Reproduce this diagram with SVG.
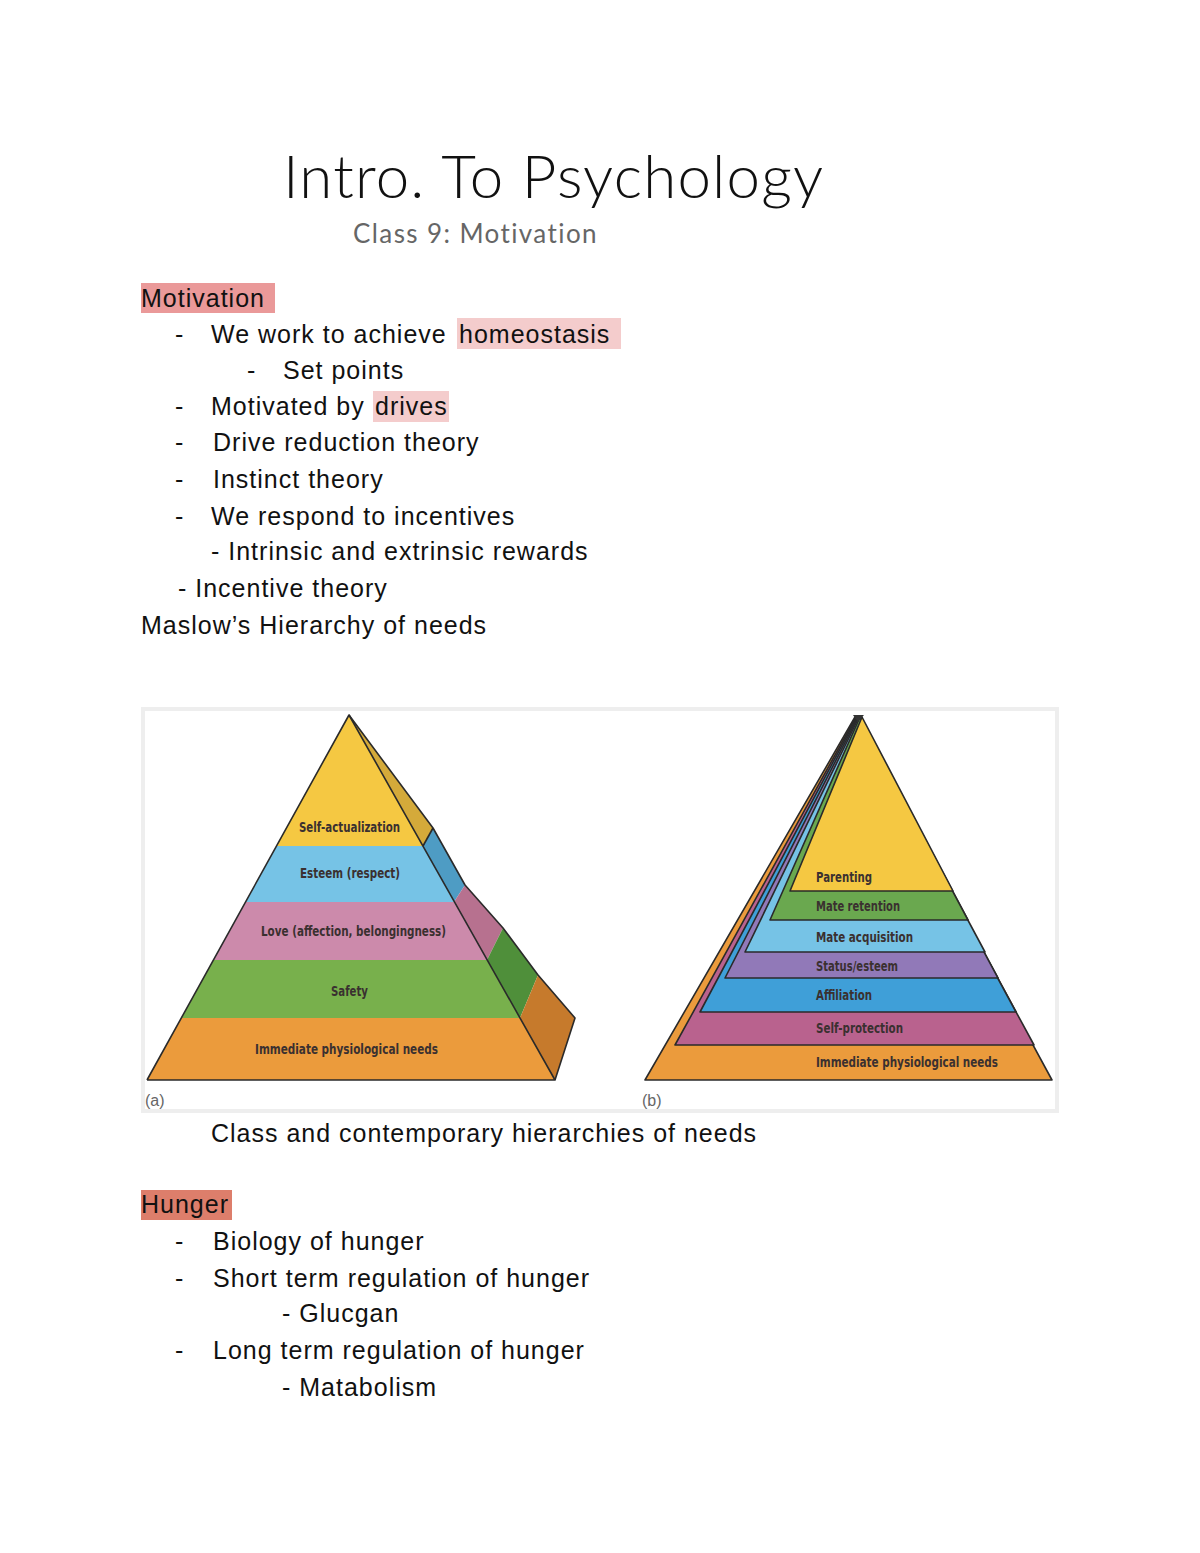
<svg xmlns="http://www.w3.org/2000/svg" width="1200" height="1553" viewBox="0 0 1200 1553">
<style>
.b{font-family:"Liberation Sans",Arial,sans-serif;font-size:25px;fill:#111;letter-spacing:1px}
.p{font-family:"DejaVu Sans Condensed",sans-serif;font-size:14px;font-weight:bold;fill:#3a3030}
.s{stroke:#2a2a2a;stroke-width:1.6;stroke-linejoin:round}
.lab{font-family:"Liberation Sans",Arial,sans-serif;font-size:16px;fill:#666}
</style>
<rect width="1200" height="1553" fill="#fff"/>
<g id="title">
<text x="283" y="198" font-family="Lato,'Open Sans',sans-serif" font-weight="300" font-size="60" fill="#111" letter-spacing="1.2">Intro. To Psychology</text>
<text x="353" y="243" font-family="Lato,'Open Sans',sans-serif" font-size="26" fill="#666" letter-spacing="1.4">Class 9: Motivation</text>
</g>
<g id="highlights">
<rect x="141" y="283" width="134" height="30" fill="#ea9999"/>
<rect x="457" y="318" width="164" height="31" fill="#f4cccc"/>
<rect x="373" y="391" width="76" height="31" fill="#f4cccc"/>
<rect x="141" y="1190" width="91" height="30" fill="#dd7e6b"/>
</g>
<g id="notes">
<text class="b" x="141" y="307">Motivation</text>
<text class="b" x="175" y="343">-</text><text class="b" x="211" y="343">We work to achieve <tspan x="459">homeostasis</tspan></text>
<text class="b" x="247" y="379">-</text><text class="b" x="283" y="379">Set points</text>
<text class="b" x="175" y="415">-</text><text class="b" x="211" y="415">Motivated by <tspan x="375">drives</tspan></text>
<text class="b" x="175" y="451">-</text><text class="b" x="213" y="451">Drive reduction theory</text>
<text class="b" x="175" y="488">-</text><text class="b" x="213" y="488">Instinct theory</text>
<text class="b" x="175" y="525">-</text><text class="b" x="211" y="525">We respond to incentives</text>
<text class="b" x="211" y="560">- Intrinsic and extrinsic rewards</text>
<text class="b" x="178" y="597">- Incentive theory</text>
<text class="b" x="141" y="634">Maslow’s Hierarchy of needs</text>
<text class="b" x="211" y="1142">Class and contemporary hierarchies of needs</text>
<text class="b" x="141" y="1213">Hunger</text>
<text class="b" x="175" y="1250">-</text><text class="b" x="213" y="1250">Biology of hunger</text>
<text class="b" x="175" y="1287">-</text><text class="b" x="213" y="1287">Short term regulation of hunger</text>
<text class="b" x="282" y="1322">- Glucgan</text>
<text class="b" x="175" y="1359">-</text><text class="b" x="213" y="1359">Long term regulation of hunger</text>
<text class="b" x="282" y="1396">- Matabolism</text>
</g>
<rect x="143" y="709" width="914" height="402" fill="none" stroke="#eeeeee" stroke-width="4"/>
<g id="pyramid-a">
<polygon points="423,846 433,828 349,715" fill="#d4aa3a"/>
<polygon points="423,846 433,828 465,885 454,902" fill="#4e9cc4"/>
<polygon points="454,902 465,885 503,928 487,960" fill="#b7718f"/>
<polygon points="487,960 503,928 538,975 520,1018" fill="#4f8f3a"/>
<polygon points="520,1018 538,975 575,1018 555,1080" fill="#c67a2c"/>
<polygon points="349,715 276.5,846 423,846" fill="#f5c842"/>
<polygon points="276.5,846 246,902 454,902 423,846" fill="#76c3e6"/>
<polygon points="246,902 213.5,960 487,960 454,902" fill="#cc8aab"/>
<polygon points="213.5,960 181.5,1018 520,1018 487,960" fill="#78b04c"/>
<polygon points="181.5,1018 147,1080 555,1080 520,1018" fill="#eb9b3c"/>
<polyline class="s" fill="none" points="147,1080 349,715 555,1080 147,1080"/>
<polyline class="s" fill="none" points="349,715 433,828 465,885 503,928 538,975 575,1018 555,1080"/>
<line class="s" x1="423" y1="846" x2="433" y2="828"/>
<text class="p" x="299" y="832" textLength="101" lengthAdjust="spacingAndGlyphs">Self-actualization</text>
<text class="p" x="300" y="878" textLength="100" lengthAdjust="spacingAndGlyphs">Esteem (respect)</text>
<text class="p" x="261" y="936" textLength="185" lengthAdjust="spacingAndGlyphs">Love (affection, belongingness)</text>
<text class="p" x="331" y="996" textLength="37" lengthAdjust="spacingAndGlyphs">Safety</text>
<text class="p" x="255" y="1054" textLength="183" lengthAdjust="spacingAndGlyphs">Immediate physiological needs</text>
<text class="lab" x="145" y="1106">(a)</text>
</g>
<g id="pyramid-b">
<polygon class="s" points="855,717 645,1080 1052,1080" fill="#eb9b3c"/>
<polygon class="s" points="856,717 675,1045 1034,1045" fill="#b9628e"/>
<polygon class="s" points="857,717 700,1012 1016,1012" fill="#3f9fd8"/>
<polygon class="s" points="858,717 725,978 998,978" fill="#9179b8"/>
<polygon class="s" points="859,717 745,952 985,952" fill="#76c3e6"/>
<polygon class="s" points="860,717 770,920 968,920" fill="#6aa84f"/>
<polygon class="s" points="862,717 790,891 953,891" fill="#f5c842"/>
<polygon points="853,715 864,715 858,722" fill="#333"/>
<text class="p" x="816" y="882" textLength="56" lengthAdjust="spacingAndGlyphs">Parenting</text>
<text class="p" x="816" y="911" textLength="84" lengthAdjust="spacingAndGlyphs">Mate retention</text>
<text class="p" x="816" y="942" textLength="97" lengthAdjust="spacingAndGlyphs">Mate acquisition</text>
<text class="p" x="816" y="971" textLength="82" lengthAdjust="spacingAndGlyphs">Status/esteem</text>
<text class="p" x="816" y="1000" textLength="56" lengthAdjust="spacingAndGlyphs">Affiliation</text>
<text class="p" x="816" y="1033" textLength="87" lengthAdjust="spacingAndGlyphs">Self-protection</text>
<text class="p" x="816" y="1067" textLength="182" lengthAdjust="spacingAndGlyphs">Immediate physiological needs</text>
<text class="lab" x="642" y="1106">(b)</text>
</g>
</svg>
